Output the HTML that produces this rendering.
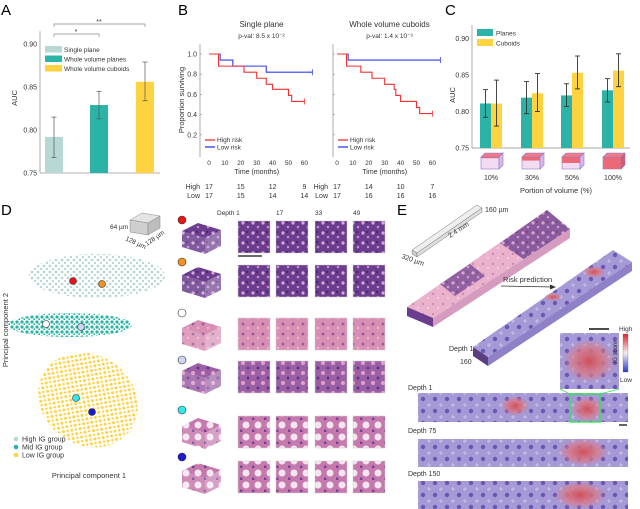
<!DOCTYPE html>
<html><head><meta charset="utf-8">
<style>
body{margin:0;background:#fff}
svg{display:block;font-family:"Liberation Sans",sans-serif}
</style></head><body>
<svg id="fig" width="640" height="509" viewBox="0 0 640 509" xmlns="http://www.w3.org/2000/svg">
<defs>
<pattern id="pDark" width="10" height="10" patternUnits="userSpaceOnUse">
<rect width="10" height="10" fill="#6a3d8e"/><circle cx="3" cy="3" r="1.6" fill="#d9a6d6"/><circle cx="8" cy="7" r="1.3" fill="#c38ac6"/><circle cx="7" cy="2" r="1" fill="#3e2466"/></pattern>
<pattern id="pPink" width="10" height="10" patternUnits="userSpaceOnUse">
<rect width="10" height="10" fill="#d98fb4"/><circle cx="3" cy="4" r="1.4" fill="#9a5a9e"/><circle cx="8" cy="8" r="1.2" fill="#eab6cf"/></pattern>
<pattern id="pLight" width="10" height="10" patternUnits="userSpaceOnUse">
<rect width="10" height="10" fill="#eab2cc"/><circle cx="3" cy="4" r="1.2" fill="#d08ab0"/><circle cx="8" cy="8" r="1" fill="#f5d5e4"/></pattern>
<pattern id="pMix" width="10" height="10" patternUnits="userSpaceOnUse">
<rect width="10" height="10" fill="#9b5fa6"/><circle cx="3" cy="3" r="2" fill="#e1a1c6"/><circle cx="8" cy="8" r="1.5" fill="#5f3787"/></pattern>
<pattern id="pWhite" width="12" height="12" patternUnits="userSpaceOnUse">
<rect width="12" height="12" fill="#c679ac"/><circle cx="6" cy="5" r="3.5" fill="#f4e6f1"/><circle cx="1" cy="11" r="1.5" fill="#70418f"/></pattern>
<pattern id="pBlue" width="12" height="12" patternUnits="userSpaceOnUse">
<rect width="12" height="12" fill="#a69ad6"/><circle cx="3" cy="3" r="2.2" fill="#6c56b3"/><circle cx="9" cy="9" r="1.6" fill="#c3b9e8"/></pattern>
<pattern id="dotLT" width="6" height="6" patternUnits="userSpaceOnUse"><circle cx="2" cy="2" r="1.4" fill="#b7d8d6"/><circle cx="5" cy="5" r="1.2" fill="#b7d8d6"/></pattern>
<pattern id="dotT" width="5" height="5" patternUnits="userSpaceOnUse"><circle cx="2" cy="2" r="1.6" fill="#2ab3a6"/><circle cx="4.5" cy="4.5" r="1.2" fill="#2ab3a6"/></pattern>
<pattern id="dotY" width="6" height="6" patternUnits="userSpaceOnUse"><circle cx="2" cy="2" r="1.5" fill="#ffd23f"/><circle cx="5" cy="5" r="1.3" fill="#ffd23f"/></pattern>
<radialGradient id="hot"><stop offset="0" stop-color="#d0505a"/><stop offset="0.6" stop-color="#d87a8a" stop-opacity="0.8"/><stop offset="1" stop-color="#d87a8a" stop-opacity="0"/></radialGradient>
<linearGradient id="cbar" x1="0" y1="0" x2="0" y2="1"><stop offset="0" stop-color="#e0202a"/><stop offset="0.5" stop-color="#f2eef2"/><stop offset="1" stop-color="#2a3ad0"/></linearGradient>
</defs>

<text x="1" y="15" font-size="15">A</text>
<text x="178" y="15" font-size="15">B</text>
<text x="445" y="15" font-size="15">C</text>
<text x="1" y="215" font-size="15">D</text>
<text x="397" y="215" font-size="15">E</text>

<g id="panelA"></g>
<g id="panelB"></g>
<g id="panelC"></g>

<g>
<ellipse cx="97" cy="276" rx="68" ry="22" fill="url(#dotLT)"/>
<ellipse cx="70" cy="325" rx="62" ry="12" fill="url(#dotT)"/>
<ellipse cx="88" cy="400" rx="52" ry="45" fill="url(#dotY)" transform="rotate(35 88 400)"/>
<circle cx="73" cy="281" r="3.5" fill="#e8141c" stroke="#333" stroke-width="0.6"/>
<circle cx="102" cy="284" r="3.5" fill="#f5901e" stroke="#333" stroke-width="0.6"/>
<circle cx="46" cy="324" r="3.5" fill="#fff" stroke="#333" stroke-width="0.6"/>
<circle cx="81" cy="327" r="3.5" fill="#d0d4f2" stroke="#333" stroke-width="0.6"/>
<circle cx="76" cy="398" r="3.5" fill="#30e8ee" stroke="#333" stroke-width="0.6"/>
<circle cx="92" cy="412" r="3.5" fill="#1a1ad0" stroke="#333" stroke-width="0.6"/>
<g font-size="7" fill="#333">
<circle cx="16" cy="439" r="2.3" fill="#b7d8d6"/><text x="22" y="441.5">High IG group</text>
<circle cx="16" cy="447" r="2.3" fill="#2ab3a6"/><text x="22" y="449.5">Mid IG group</text>
<circle cx="16" cy="455" r="2.3" fill="#ffd23f"/><text x="22" y="457.5">Low IG group</text>
<text x="89" y="478" text-anchor="middle" font-size="7.5">Principal component 1</text>
<text x="8" y="330" text-anchor="middle" font-size="7.5" transform="rotate(-90 8 330)">Principal component 2</text>
<g>
<polygon points="130,220 142,213 160,216 148,223" fill="#e4e4e4" stroke="#888" stroke-width="0.5"/>
<polygon points="130,220 148,223 148,235 130,232" fill="#cfcfcf" stroke="#888" stroke-width="0.5"/>
<polygon points="148,223 160,216 160,228 148,235" fill="#bdbdbd" stroke="#888" stroke-width="0.5"/>
</g>
<text x="110" y="229" font-size="6.5">64 µm</text>
<text x="125" y="240" font-size="6.5" transform="rotate(25 125 240)">128 µm</text>
<text x="147" y="246" font-size="6.5" transform="rotate(-35 147 246)">128 µm</text>
</g>
</g>

<g id="panelDtiles"></g>

<g font-size="7" fill="#333">
<g>
<polygon points="412,250 477,205 482,208 417,253" fill="#eee" stroke="#777" stroke-width="0.5"/>
<polygon points="412,250 417,253 417,257 412,254" fill="#ccc" stroke="#777" stroke-width="0.5"/>
<polygon points="417,253 482,208 482,212 417,257" fill="#ddd" stroke="#777" stroke-width="0.5"/>
</g>
<text x="485" y="212">160 µm</text>
<text x="450" y="238" transform="rotate(-33 450 238)">2.4 mm</text>
<text x="401" y="258" transform="rotate(20 401 258)">320 µm</text>
<polygon points="407,307 547,210 570,229 433,318" fill="url(#pLight)"/>
<polygon points="500,243 547,210 570,229 525,260" fill="url(#pDark)" opacity="0.75"/>
<polygon points="440,284 470,264 485,276 455,296" fill="url(#pDark)" opacity="0.7"/>
<polygon points="407,307 433,318 433,327 407,316" fill="#6a3d8e"/>
<polygon points="433,318 570,229 570,238 433,327" fill="#d59cc0"/>
<polygon points="473,347 613,250 632,262 488,357" fill="url(#pBlue)"/>
<polygon points="473,347 488,357 488,366 473,356" fill="#5a3f80"/>
<polygon points="488,357 632,262 632,271 488,366" fill="#8f80c8"/>
<ellipse cx="594" cy="272" rx="11" ry="6" fill="url(#hot)"/>
<ellipse cx="553" cy="297" rx="9" ry="4" fill="url(#hot)"/>
<line x1="501" y1="286" x2="553" y2="287" stroke="#333" stroke-width="0.8"/>
<polygon points="556,287 550,284.5 550,289.5" fill="#333"/>
<text x="503" y="282" font-size="7.5">Risk prediction</text>
<text x="449" y="351">Depth 1</text>
<text x="460" y="364">160</text>
<rect x="560" y="333" width="59" height="56" fill="url(#pBlue)"/>
<ellipse cx="589" cy="361" rx="26" ry="22" fill="url(#hot)"/>
<line x1="589" y1="329" x2="609" y2="329" stroke="#111" stroke-width="1.5"/>
<rect x="623" y="334" width="5" height="38" fill="url(#cbar)" stroke="#666" stroke-width="0.3"/>
<text x="619" y="331" font-size="6.5">High</text>
<text x="620" y="382" font-size="6.5">Low</text>
<text x="617" y="352" font-size="6" text-anchor="middle" transform="rotate(-90 617 352)">IG score</text>
<text x="408" y="390">Depth 1</text>
<rect x="418" y="393" width="210" height="29" fill="url(#pBlue)"/>
<ellipse cx="515" cy="406" rx="14" ry="10" fill="url(#hot)"/>
<ellipse cx="587" cy="409" rx="16" ry="13" fill="url(#hot)"/>
<rect x="570" y="394" width="30" height="28" fill="none" stroke="#2ee84a" stroke-width="1.3"/>
<line x1="560" y1="389" x2="570" y2="394" stroke="#2ee84a" stroke-width="0.7"/>
<line x1="619" y1="389" x2="600" y2="394" stroke="#2ee84a" stroke-width="0.7"/>
<line x1="619" y1="425" x2="627" y2="425" stroke="#111" stroke-width="1.3"/>
<text x="408" y="433">Depth 75</text>
<rect x="418" y="439" width="210" height="28" fill="url(#pBlue)"/>
<ellipse cx="583" cy="452" rx="25" ry="14" fill="url(#hot)"/>
<text x="408" y="476">Depth 150</text>
<rect x="418" y="481" width="210" height="28" fill="url(#pBlue)"/>
<ellipse cx="580" cy="495" rx="26" ry="14" fill="url(#hot)"/>
</g>
</svg>
<script>
const NS="http://www.w3.org/2000/svg";
function mk(parent,tag,attrs,text){const e=document.createElementNS(NS,tag);for(const k in attrs)e.setAttribute(k,attrs[k]);if(text!==undefined)e.textContent=text;parent.appendChild(e);return e;}

const aCategories=["Single plane","Whole volume planes","Whole volume cuboids"];
const aValues=[0.792,0.829,0.856];
const aErrLow=[0.768,0.813,0.834];
const aErrHigh=[0.815,0.845,0.879];
const aColors=["#b8d8d6","#2ab3a6","#ffd23f"];
const aTicks=[0.75,0.80,0.85,0.90];

const kmTimesTicks=[0,10,20,30,40,50,60];
const kmYTicks=[0.2,0.4,0.6,0.8,1.0];
const spHighT=[0,6,22,30,36,40,50,52,60];
const spHighS=[1.0,0.88,0.82,0.76,0.70,0.65,0.59,0.53,0.53];
const spLowT=[0,7,15,36,65];
const spLowS=[1.0,0.94,0.88,0.82,0.82];
const cuHighT=[0,6,15,22,30,36,37,40,50,52,60];
const cuHighS=[1.0,0.88,0.82,0.76,0.70,0.65,0.59,0.53,0.47,0.41,0.41];
const cuLowT=[0,7,65];
const cuLowS=[1.0,0.94,0.94];
const riskTimes=[0,20,40,60];
const spHighRisk=[17,15,12,9];
const spLowRisk=[17,15,14,14];
const cuHighRisk=[17,14,10,7];
const cuLowRisk=[17,16,16,16];

const cCategories=["10%","30%","50%","100%"];
const cPlanes=[0.811,0.819,0.822,0.829];
const cPlanesLow=[0.792,0.797,0.807,0.813];
const cPlanesHigh=[0.830,0.841,0.838,0.845];
const cCuboids=[0.811,0.825,0.853,0.856];
const cCuboidsLow=[0.780,0.800,0.831,0.834];
const cCuboidsHigh=[0.843,0.852,0.876,0.879];
const cTicks=[0.75,0.80,0.85,0.90];
const cFill=[0.1,0.3,0.5,1.0];

(function(){
 const g=document.getElementById('panelA');
 const y=v=>173-(v-0.75)*860;
 const x0=[45,90,136],bw=18;
 mk(g,'line',{x1:40,y1:y(0.915),x2:40,y2:173,stroke:'#999','stroke-width':0.8});
 mk(g,'line',{x1:40,y1:173,x2:160,y2:173,stroke:'#999','stroke-width':0.8});
 aTicks.forEach(t=>{const e=mk(g,'text',{x:37,y:y(t)+2.5,'font-size':7,'text-anchor':'end',fill:'#333'},t.toFixed(2));
  
  });
 const yl=mk(g,'text',{x:17,y:98,'font-size':7.5,'text-anchor':'middle',fill:'#333',transform:'rotate(-90 17 98)'},'AUC');
 
 
 aValues.forEach((v,i)=>{
  const r=mk(g,'rect',{x:x0[i],y:y(v),width:bw,height:173-y(v),fill:aColors[i]});
  
  
  const cx=x0[i]+bw/2;
  mk(g,'line',{x1:cx,y1:y(aErrLow[i]),x2:cx,y2:y(aErrHigh[i]),stroke:'#555','stroke-width':0.7});
  mk(g,'line',{x1:cx-2.5,y1:y(aErrLow[i]),x2:cx+2.5,y2:y(aErrLow[i]),stroke:'#555','stroke-width':0.7});
  mk(g,'line',{x1:cx-2.5,y1:y(aErrHigh[i]),x2:cx+2.5,y2:y(aErrHigh[i]),stroke:'#555','stroke-width':0.7});
 });
 aCategories.forEach((c,i)=>{
  const r=mk(g,'rect',{x:45,y:46+i*9.5,width:17,height:6.5,fill:aColors[i]});
  
  
  const t=mk(g,'text',{x:64,y:52+i*9.5,'font-size':6.5,fill:'#333'},c);
  
  
 });
 mk(g,'path',{d:'M54,27 V24 H145 V27',fill:'none',stroke:'#888','stroke-width':0.7});
 mk(g,'text',{x:99,y:24,'font-size':7,'text-anchor':'middle',fill:'#333'},'**');
 mk(g,'path',{d:'M54,37 V34 H99 V37',fill:'none',stroke:'#888','stroke-width':0.7});
 mk(g,'text',{x:76,y:34,'font-size':7,'text-anchor':'middle',fill:'#333'},'*');
})();

(function(){
 const g=document.getElementById('panelB');
 const y=s=>54+(1-s)*101;
 function plot(ax,x0,title,pv,hT,hS,lT,lS,hR,lR,showY){
  const x=t=>x0+t*1.59;
  mk(g,'line',{x1:ax,y1:44,x2:ax,y2:157,stroke:'#888','stroke-width':0.7});
  kmYTicks.forEach(v=>{mk(g,'line',{x1:ax,y1:y(v),x2:ax+2,y2:y(v),stroke:'#888','stroke-width':0.6});
   if(showY){const e=mk(g,'text',{x:ax-3,y:y(v)+2.5,'font-size':7,'text-anchor':'end',fill:'#333'},v.toFixed(1));
    
    }});
  kmTimesTicks.forEach(t=>{const e=mk(g,'text',{x:x(t),y:165,'font-size':6.5,'text-anchor':'middle',fill:'#333'},t);
   
   });
  mk(g,'text',{x:x(30),y:174,'font-size':7,'text-anchor':'middle',fill:'#333'},'Time (months)');
  const tt=mk(g,'text',{x:x(33),y:27,'font-size':8,'text-anchor':'middle',fill:'#333'},title);
  
  
  mk(g,'text',{x:x(33),y:38,'font-size':6.5,'text-anchor':'middle',fill:'#333'},pv);
  function step(T,S,col,name){let d='M'+x(T[0])+','+y(S[0]);for(let i=1;i<T.length;i++){d+=' H'+x(T[i])+' V'+y(S[i]);}
   const p=mk(g,'path',{d:d,fill:'none',stroke:col,'stroke-width':1.1});
   
   
   const last=T.length-1;mk(g,'line',{x1:x(T[last]),y1:y(S[last])-3,x2:x(T[last]),y2:y(S[last])+3,stroke:col,'stroke-width':0.8});}
  step(lT,lS,'#2f3cf0','low-risk-curve');
  step(hT,hS,'#f03030','high-risk-curve');
  mk(g,'line',{x1:ax+5,y1:140,x2:ax+15,y2:140,stroke:'#f03030','stroke-width':1.3});
  mk(g,'text',{x:ax+17,y:142,'font-size':6.5,fill:'#333'},'High risk');
  mk(g,'line',{x1:ax+5,y1:147,x2:ax+15,y2:147,stroke:'#2f3cf0','stroke-width':1.3});
  mk(g,'text',{x:ax+17,y:149.5,'font-size':6.5,fill:'#333'},'Low risk');
  mk(g,'text',{x:x0-9,y:189,'font-size':7,'text-anchor':'end',fill:'#333'},'High');
  mk(g,'text',{x:x0-9,y:198,'font-size':7,'text-anchor':'end',fill:'#333'},'Low');
  riskTimes.forEach((t,i)=>{mk(g,'text',{x:x(t),y:189,'font-size':7,'text-anchor':'middle',fill:'#333'},hR[i]);
   mk(g,'text',{x:x(t),y:198,'font-size':7,'text-anchor':'middle',fill:'#333'},lR[i]);});
 }
 plot(200,209,'Single plane','p-val: 8.5 x 10⁻²',spHighT,spHighS,spLowT,spLowS,spHighRisk,spLowRisk,true);
 const yl=mk(g,'text',{x:184,y:100,'font-size':7.5,'text-anchor':'middle',fill:'#333',transform:'rotate(-90 184 100)'},'Proportion surviving');
 
 
 plot(333,337,'Whole volume cuboids','p-val: 1.4 x 10⁻³',cuHighT,cuHighS,cuLowT,cuLowS,cuHighRisk,cuLowRisk,false);
})();

(function(){
 const g=document.getElementById('panelC');
 const y=v=>148-(v-0.75)*730;
 const centers=[491,532,572,613],bw=11;
 mk(g,'line',{x1:472,y1:25,x2:472,y2:148,stroke:'#888','stroke-width':0.7});
 mk(g,'line',{x1:472,y1:148,x2:630,y2:148,stroke:'#888','stroke-width':0.7});
 cTicks.forEach(t=>{const e=mk(g,'text',{x:469,y:y(t)+2.5,'font-size':7,'text-anchor':'end',fill:'#333'},t.toFixed(2));
  
  });
 const yl=mk(g,'text',{x:455,y:95,'font-size':7.5,'text-anchor':'middle',fill:'#333',transform:'rotate(-90 455 95)'},'AUC');
 
 
 function bar(xl,v,lo,hi,col,name){
  const r=mk(g,'rect',{x:xl,y:y(v),width:bw,height:148-y(v),fill:col});
  
  
  const cx=xl+bw/2;
  mk(g,'line',{x1:cx,y1:y(lo),x2:cx,y2:y(hi),stroke:'#333','stroke-width':0.9});
  mk(g,'line',{x1:cx-2.5,y1:y(lo),x2:cx+2.5,y2:y(lo),stroke:'#333','stroke-width':0.9});
  mk(g,'line',{x1:cx-2.5,y1:y(hi),x2:cx+2.5,y2:y(hi),stroke:'#333','stroke-width':0.9});
 }
 cCategories.forEach((c,i)=>{
  bar(centers[i]-bw,cPlanes[i],cPlanesLow[i],cPlanesHigh[i],'#2ab3a6','c-bar-planes');
  bar(centers[i],cCuboids[i],cCuboidsLow[i],cCuboidsHigh[i],'#ffd23f','c-bar-cuboids');
  const cx=centers[i];
  const bx=cx-10,by=157,w=18,h=12;
  mk(g,'rect',{x:bx,y:by,width:w,height:h,fill:'#f3dcf3',stroke:'#8a7ad0','stroke-width':0.6});
  mk(g,'rect',{x:bx,y:by,width:w,height:h*cFill[i],fill:'#ec6a78'});
  mk(g,'polygon',{points:(bx)+','+by+' '+(bx+4)+','+(by-4)+' '+(bx+w+4)+','+(by-4)+' '+(bx+w)+','+by,fill:'#ef7a88',stroke:'#8a7ad0','stroke-width':0.6});
  mk(g,'polygon',{points:(bx+w)+','+by+' '+(bx+w+4)+','+(by-4)+' '+(bx+w+4)+','+(by+h-4)+' '+(bx+w)+','+(by+h),fill:i==3?'#d85868':'#d9b6e6',stroke:'#8a7ad0','stroke-width':0.6});
  const t=mk(g,'text',{x:cx,y:180,'font-size':7,'text-anchor':'middle',fill:'#333'},c);
  
  
 });
 mk(g,'text',{x:556,y:193,'font-size':7.5,'text-anchor':'middle',fill:'#333'},'Portion of volume (%)');
 mk(g,'rect',{x:477,y:29,width:16,height:7,fill:'#2ab3a6'});
 mk(g,'text',{x:496,y:35.5,'font-size':6.5,fill:'#333'},'Planes');
 mk(g,'rect',{x:477,y:39,width:16,height:7,fill:'#ffd23f'});
 mk(g,'text',{x:496,y:45.5,'font-size':6.5,fill:'#333'},'Cuboids');
})();

(function(){
 const g=document.getElementById('panelDtiles');
 const rowsY=[221,265,318,361,416,461];
 const pats=['pDark','pDark','pPink','pMix','pWhite','pWhite'];
 const tileX=[238,276,315,353];
 const hdr=['Depth 1','17','33','49'];
 hdr.forEach((h,i)=>{mk(g,'text',{x:i==0?217:tileX[i],y:215,'font-size':6.5,fill:'#333'},h);});
 rowsY.forEach((ry,r)=>{
  const cy=ry+10;
  mk(g,'polygon',{points:'182,'+(cy)+' 198,'+(cy-8)+' 221,'+(cy-1)+' 205,'+(cy+7),fill:'url(#'+pats[r]+')'});
  mk(g,'polygon',{points:'182,'+(cy)+' 205,'+(cy+7)+' 205,'+(cy+23)+' 182,'+(cy+16),fill:'url(#'+pats[r]+')',opacity:0.85});
  mk(g,'polygon',{points:'205,'+(cy+7)+' 221,'+(cy-1)+' 221,'+(cy+15)+' 205,'+(cy+23),fill:'url(#'+pats[r]+')',opacity:0.7});
  tileX.forEach(tx=>{
   const t=mk(g,'rect',{x:tx,y:ry,width:32,height:32,fill:'url(#'+pats[r]+')',stroke:'#ccc','stroke-width':0.5});
   
   
  });
 });
 mk(g,'line',{x1:238,y1:256,x2:262,y2:256,stroke:'#111','stroke-width':1.3});
 const cols=['#e8141c','#f5901e','#fff','#d0d4f2','#30e8ee','#1a1ad0'];
 const cys=[220,262,313,360,410,457];
 cols.forEach((c,i)=>{mk(g,'circle',{cx:182,cy:cys[i],r:4,fill:c,stroke:'#333','stroke-width':0.6});});
})();
</script>
</body></html>
